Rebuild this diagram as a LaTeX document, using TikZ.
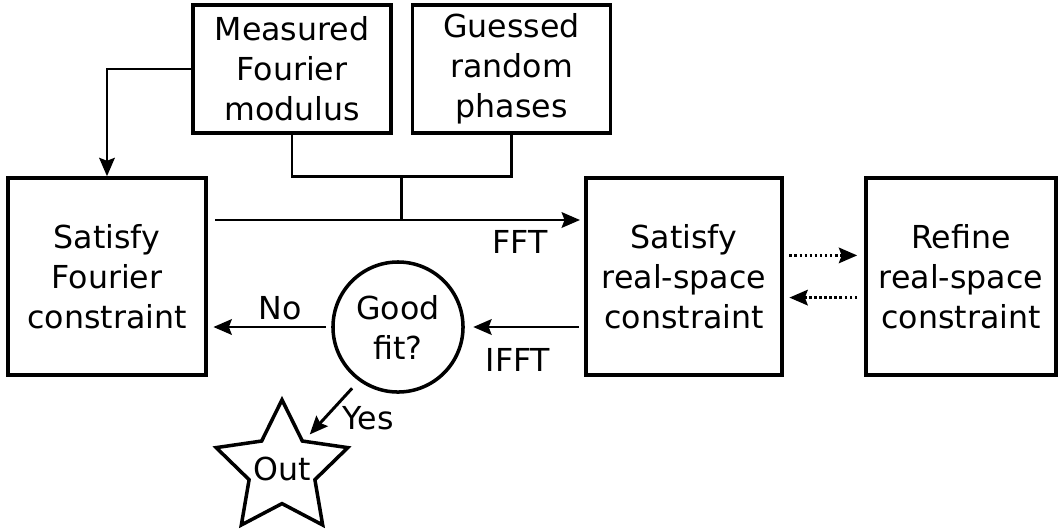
\documentclass[tikz,border=0pt]{standalone}
\usepackage{fontspec}
\setmainfont{DejaVu Sans}
\usetikzlibrary{shapes,arrows.meta,positioning,calc}

\begin{document}
\begin{tikzpicture}[x=0.025cm, y=-0.025cm,
    every node/.style={font=\fontsize{22.5}{28.45}\selectfont, align=center},
    box/.style={draw, line width=2.5pt, rectangle, minimum width=4.95cm, minimum height=4.925cm, inner sep=0pt},
    inbox/.style={draw, line width=2.5pt, rectangle, minimum width=4.95cm, minimum height=3.2cm, inner sep=0pt},
    arr/.style={-{Stealth[length=13pt, width=11pt, inset=2pt]}, line width=2.1pt},
    dotarr/.style={-{Stealth[length=13pt, width=11pt, inset=2pt]}, line width=2.1pt, dash pattern=on 1.8pt off 1.8pt}]
    \useasboundingbox (0,0) rectangle (1058,529);

    \node[box] (fourier) at (107,276.5) {Satisfy\\Fourier\\constraint};
    \node[box, minimum width=4.9cm] (realsp) at (684,276.5) {Satisfy\\real-space\\constraint};
    \node[box, minimum width=4.75cm] (refine) at (961,276.5) {Refine\\real-space\\constraint};
    \node[inbox] (modulus) at (292,69) {Measured\\Fourier\\modulus};
    \node[inbox] (phases) at (511.5,69) {Guessed\\random\\phases};
    \node[draw, circle, line width=2.5pt, minimum size=3.25cm, inner sep=0pt] (fit) at (398,327) {Good\\fit?};
    \node[draw, star, star points=5, star point ratio=2, line width=2.5pt, inner sep=-3pt, align=none] (out) at (282,469) {Out};

    \coordinate (fftstart) at (215,220);
    \coordinate (fftend) at (580,220);
    \coordinate (mid) at ($(modulus.south)!0.5!(phases.south)$);

    \draw[arr] (modulus.west) -| (fourier.north);
    \draw[line width=2.1pt] (modulus.south) |- (phases.south |- fourier.north) -- (phases.south);
    \draw[line width=2.1pt] (mid |- fourier.north) -- (mid |- fftstart);
    \draw[arr] (fftstart) -- (fftend);
    \node (fftlabel) at (520,242) {FFT};

    \draw[arr, shorten <=4pt, shorten >=6pt] (fit.east -| realsp.west) -- (fit.east);
    \node (ifftlabel) at (518,360) {IFFT};
    \draw[arr, shorten <=4pt, shorten >=4pt] (fit.west) -- (fit.west -| fourier.east);
    \node (nolabel) at (280,308) {No};
    \draw[arr, shorten <=7pt, shorten >=5pt] (fit.234) -- (out.52);
    \node (yeslabel) at (368,418) {Yes};

    \draw[dotarr, shorten <=4pt, shorten >=5pt] ([yshift=15pt]realsp.east) -- ([yshift=15pt]refine.west);
    \draw[dotarr, shorten <=5pt, shorten >=4pt] ([yshift=-15pt]refine.west) -- ([yshift=-15pt]realsp.east);
\end{tikzpicture}
\end{document}
